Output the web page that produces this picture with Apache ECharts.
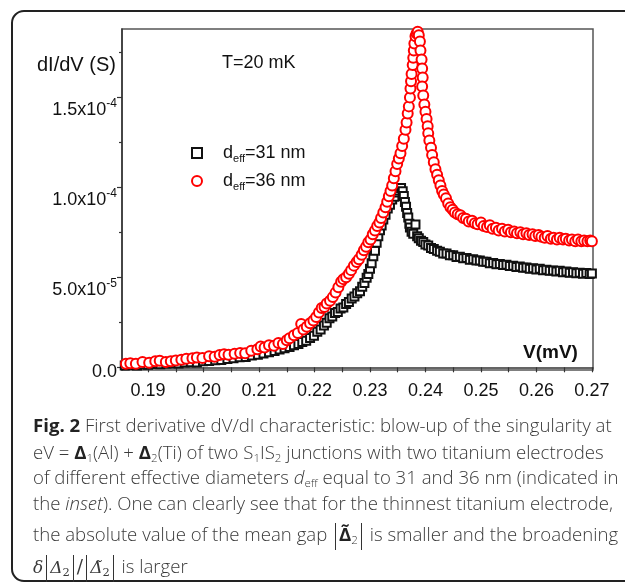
<!DOCTYPE html>
<html>
<head>
<meta charset="utf-8">
<script src="https://cdn.jsdelivr.net/npm/echarts@6/dist/echarts.min.js"></script>
<style>
  html, body { margin: 0; padding: 0; background: #fff; }
  body { width: 625px; height: 588px; position: relative; overflow: hidden; }
  #frame {
    position: absolute; left: 11px; top: 10px; width: 640px; height: 572px;
    border: 2px solid #222; border-radius: 13px; box-sizing: border-box;
  }
  #chart { position: absolute; left: 0; top: 0; width: 625px; height: 588px; }
  .cap {
    position: absolute; left: 33px; white-space: nowrap;
    font-family: "Open Sans", sans-serif; font-size: 18.6px; font-weight: 300; line-height: 20px;
    color: #3a3a3a;
  }
  .cap b { color: #222; font-weight: 700; }
  .cap sub { font-size: 11.5px; vertical-align: -3px; line-height: 0; }
  .bar { display: inline-block; width: 0; height: 27px; border-left: 1.3px solid #333;
         vertical-align: middle; margin: 0 3px; }
  .m { font-family: "DejaVu Serif", "Liberation Serif", serif; font-style: italic; font-size: 17px; }
  .mu { font-family: "DejaVu Serif", "Liberation Serif", serif; }
</style>
</head>
<body>
<div id="frame"></div>
<div id="chart"></div>
<div class="cap" style="top:415px"><b>Fig. 2</b> First derivative dV/dI characteristic: blow-up of the singularity at</div>
<div class="cap" style="top:442px">eV = <b>Δ</b><sub>1</sub>(Al) + <b>Δ</b><sub>2</sub>(Ti) of two S<sub>1</sub>IS<sub>2</sub> junctions with two titanium electrodes</div>
<div class="cap" style="top:467px">of different effective diameters <i>d</i><sub>eff</sub> equal to 31 and 36 nm (indicated in</div>
<div class="cap" style="top:493px">the <i>inset</i>). One can clearly see that for the thinnest titanium electrode,</div>
<div class="cap" style="top:523px">the absolute value of the mean gap <span class="bar"></span><b>Δ̃</b><sub>2</sub><span class="bar"></span> is smaller and the broadening</div>
<div class="cap" style="top:555px"><span class="m">δ</span><span class="bar"></span><span class="m">Δ</span><sub class="mu">2</sub><span class="bar"></span><span class="mu">/</span><span class="bar"></span><span class="m">Δ̃</span><sub class="mu">2</sub><span class="bar"></span> is larger</div>
<script>
// axis ticks and labels
const xTickValues = [0.19, 0.195, 0.20, 0.205, 0.21, 0.215, 0.22, 0.225, 0.23, 0.235, 0.24, 0.245, 0.25, 0.255, 0.26, 0.265, 0.27];
const xLabelValues = [0.19, 0.20, 0.21, 0.22, 0.23, 0.24, 0.25, 0.26, 0.27];
// y in units of 1e-5 S
const yLabelValues = [0, 5, 10, 15];
const yLabelMant = ["0.0", "5.0x10", "1.0x10", "1.5x10"];
const yLabelExp = ["", "-5", "-4", "-4"];
const yMinorTicks = [2.5, 7.5, 12.5, 17.5];

// d_eff = 31 nm (black squares)
const blackV = [
  0.1858, 0.1868, 0.1880, 0.1890, 0.1900, 0.1912, 0.1922, 0.1933, 0.1944, 0.1955,
  0.1966, 0.1977, 0.1988, 0.1999, 0.2010, 0.2021, 0.2032, 0.2043, 0.2054, 0.2065,
  0.2076, 0.2087, 0.2098, 0.2108, 0.2118, 0.2128, 0.2137, 0.2146, 0.2155, 0.2163,
  0.2171, 0.2178, 0.2185, 0.2192, 0.2199, 0.2205, 0.2211, 0.2217, 0.2222, 0.2227,
  0.2232, 0.2237, 0.2242, 0.2247, 0.2252, 0.2257, 0.2262, 0.2267, 0.2272, 0.2277,
  0.2282, 0.2286, 0.2290, 0.2294, 0.2297, 0.2300, 0.2303, 0.2306, 0.2309, 0.2312,
  0.2315, 0.2318, 0.2321, 0.2324, 0.2328, 0.2332, 0.2336, 0.2340, 0.2344, 0.2348,
  0.2352, 0.2356, 0.2359, 0.2361, 0.2363, 0.2365, 0.2367, 0.2369, 0.2371, 0.2372,
  0.2375, 0.2378, 0.2382, 0.2385, 0.2388, 0.2392, 0.2396, 0.2400, 0.2405, 0.2410,
  0.2415, 0.2421, 0.2426, 0.2432, 0.2438, 0.2444, 0.2450, 0.2456, 0.2462, 0.2468,
  0.2474, 0.2480, 0.2486, 0.2492, 0.2498, 0.2504, 0.2510, 0.2516, 0.2522, 0.2528,
  0.2534, 0.2540, 0.2546, 0.2552, 0.2558, 0.2564, 0.2570, 0.2576, 0.2582, 0.2588,
  0.2594, 0.2600, 0.2606, 0.2612, 0.2618, 0.2624, 0.2630, 0.2636, 0.2642, 0.2648,
  0.2654, 0.2660, 0.2666, 0.2672, 0.2678, 0.2684, 0.2690, 0.2696, 0.2700
];
const blackG = [
  0.10, 0.13, 0.10, 0.16, 0.14, 0.19, 0.17, 0.21, 0.23, 0.21,
  0.27, 0.28, 0.26, 0.33, 0.35, 0.39, 0.41, 0.46, 0.50, 0.56,
  0.57, 0.66, 0.70, 0.76, 0.84, 0.91, 0.99, 1.06, 1.13, 1.23,
  1.29, 1.41, 1.48, 1.63, 1.76, 1.97, 2.10, 2.32, 2.48, 2.72,
  2.83, 3.02, 3.08, 3.27, 3.33, 3.52, 3.63, 3.82, 3.93, 4.12,
  4.23, 4.47, 4.68, 4.97, 5.18, 5.47, 5.78, 6.17, 6.48, 6.92,
  7.28, 7.62, 7.88, 8.22, 8.48, 8.82, 9.03, 9.32, 9.48, 9.72,
  9.83, 9.97, 9.78, 9.52, 9.18, 8.92, 8.58, 8.32, 7.98, 7.77,
  7.53, 7.42, 7.93, 7.28, 7.17, 7.03, 6.97, 6.83, 6.77, 6.63,
  6.57, 6.48, 6.42, 6.33, 6.32, 6.23, 6.22, 6.13, 6.14, 6.06,
  6.07, 5.98, 6.00, 5.93, 5.94, 5.86, 5.87, 5.78, 5.80, 5.73,
  5.74, 5.68, 5.70, 5.63, 5.64, 5.58, 5.60, 5.53, 5.54, 5.48,
  5.50, 5.43, 5.47, 5.40, 5.42, 5.36, 5.38, 5.33, 5.36, 5.28,
  5.32, 5.26, 5.28, 5.23, 5.26, 5.20, 5.24, 5.18, 5.21
];

// d_eff = 36 nm (red circles)
const redV = [
  0.1860, 0.1868, 0.1878, 0.1890, 0.1902, 0.1913, 0.1921, 0.1932, 0.1941, 0.1950,
  0.1960, 0.1969, 0.1980, 0.1988, 0.1998, 0.2010, 0.2020, 0.2029, 0.2037, 0.2045,
  0.2056, 0.2066, 0.2075, 0.2086, 0.2097, 0.2103, 0.2110, 0.2118, 0.2127, 0.2135,
  0.2143, 0.2150, 0.2155, 0.2163, 0.2170, 0.2176, 0.2180, 0.2186, 0.2192, 0.2198,
  0.2203, 0.2208, 0.2213, 0.2218, 0.2222, 0.2228, 0.2233, 0.2238, 0.2243, 0.2248,
  0.2252, 0.2257, 0.2262, 0.2266, 0.2271, 0.2276, 0.2280, 0.2285, 0.2289, 0.2293,
  0.2297, 0.2301, 0.2305, 0.2309, 0.2313, 0.2317, 0.2320, 0.2324, 0.2328, 0.2331,
  0.2334, 0.2337, 0.2340, 0.2343, 0.2346, 0.2349, 0.2352, 0.2355, 0.2358, 0.2361,
  0.2364, 0.2366, 0.2368, 0.2370, 0.2372, 0.2373, 0.2374, 0.2375, 0.2377, 0.2378,
  0.2379, 0.2380, 0.2382, 0.2384, 0.2386, 0.2388, 0.2390, 0.2391, 0.2393, 0.2394,
  0.2395, 0.2394, 0.2396, 0.2398, 0.2400, 0.2402, 0.2404, 0.2405, 0.2407, 0.2410,
  0.2412, 0.2415, 0.2418, 0.2421, 0.2424, 0.2427, 0.2430, 0.2433, 0.2437, 0.2441,
  0.2445, 0.2449, 0.2453, 0.2458, 0.2463, 0.2468, 0.2473, 0.2478, 0.2484, 0.2489,
  0.2494, 0.2500, 0.2505, 0.2511, 0.2516, 0.2521, 0.2527, 0.2532, 0.2538, 0.2543,
  0.2549, 0.2554, 0.2560, 0.2565, 0.2571, 0.2576, 0.2582, 0.2587, 0.2593, 0.2598,
  0.2604, 0.2609, 0.2615, 0.2620, 0.2626, 0.2631, 0.2637, 0.2642, 0.2648, 0.2653,
  0.2659, 0.2664, 0.2670, 0.2675, 0.2681, 0.2686, 0.2692, 0.2697, 0.2700
];
const redG = [
  0.20, 0.22, 0.20, 0.30, 0.25, 0.33, 0.36, 0.30, 0.33, 0.38,
  0.42, 0.47, 0.50, 0.55, 0.52, 0.62, 0.58, 0.68, 0.72, 0.70,
  0.75, 0.80, 0.78, 0.92, 1.00, 1.15, 1.10, 1.22, 1.20, 1.35,
  1.30, 1.50, 1.62, 1.78, 1.90, 2.40, 2.10, 2.25, 2.45, 2.60,
  2.80, 3.05, 3.30, 3.35, 3.55, 3.70, 3.90, 4.15, 4.45, 4.75,
  4.90, 5.00, 5.20, 5.40, 5.65, 5.85, 6.00, 6.25, 6.50, 6.70,
  6.95, 7.10, 7.40, 7.60, 7.85, 8.05, 8.30, 8.60, 8.90, 9.20,
  9.50, 9.80, 10.10, 10.50, 10.90, 11.30, 11.60, 11.90, 12.30, 12.70,
  13.20, 13.60, 14.10, 14.50, 15.00, 15.50, 15.90, 16.30, 16.80, 17.20,
  17.60, 18.00, 18.40, 18.55, 18.65, 18.45, 18.10, 17.60, 17.10, 16.60,
  16.10, 15.60, 15.10, 14.60, 14.20, 13.80, 13.40, 13.00, 12.60, 12.20,
  11.80, 11.40, 11.00, 10.70, 10.40, 10.10, 9.80, 9.60, 9.40, 9.10,
  8.90, 8.75, 8.60, 8.50, 8.45, 8.30, 8.25, 8.10, 8.15, 8.00,
  7.95, 8.05, 7.85, 7.80, 7.90, 7.70, 7.75, 7.60, 7.70, 7.55,
  7.65, 7.50, 7.55, 7.45, 7.50, 7.40, 7.45, 7.35, 7.40, 7.30,
  7.35, 7.25, 7.20, 7.30, 7.15, 7.20, 7.10, 7.20, 7.10, 7.15,
  7.05, 7.10, 7.00, 7.10, 7.00, 7.05, 7.00, 7.05, 7.00
];

const FONT = "Arial, 'Liberation Sans', sans-serif";
const pair = (xs, ys) => xs.map((x, i) => [x, ys[i]]);

const chart = echarts.init(document.getElementById("chart"));

const option = {
  animation: false,
  textStyle: { fontFamily: FONT },
  grid: {
    left: 122, top: 29, right: 32, bottom: 218,
    show: true, borderColor: "#555", borderWidth: 1.5,
  },
  xAxis: {
    type: "value",
    min: 0.1853,
    max: 0.2702,
    axisLine: { lineStyle: { color: "#333", width: 1.5 } },
    axisTick: { customValues: xTickValues, length: 5, lineStyle: { color: "#333", width: 1.2 } },
    axisLabel: {
      customValues: xLabelValues,
      formatter: (v) => v.toFixed(2),
      fontSize: 18, color: "#111", margin: 12, fontFamily: FONT,
    },
    splitLine: { show: false },
  },
  yAxis: [
    {
      type: "value",
      min: -0.15,
      max: 18.8,
      axisLine: { show: true, lineStyle: { color: "#333", width: 1.5 } },
      axisTick: { show: true, customValues: yLabelValues, length: 5, lineStyle: { color: "#333", width: 1.2 } },
      axisLabel: {
        customValues: yLabelValues,
        margin: 5,
        verticalAlign: "top",
        formatter: (v) => {
          const i = yLabelValues.indexOf(Math.round(v * 100) / 100);
          if (i < 0) return "";
          if (!yLabelExp[i]) return "{z|" + yLabelMant[i] + "}";
          return "{b|" + yLabelMant[i] + "}{s|" + yLabelExp[i] + "}";
        },
        rich: {
          z: { fontSize: 18, color: "#111", fontFamily: FONT, lineHeight: 10 },
          b: { fontSize: 18, color: "#111", fontFamily: FONT, lineHeight: 22, verticalAlign: "bottom" },
          s: { fontSize: 12, color: "#111", fontFamily: FONT, lineHeight: 12, verticalAlign: "top" },
        },
      },
      splitLine: { show: false },
    },
    {
      type: "value",
      min: -0.15,
      max: 18.8,
      position: "left",
      axisLine: { show: false },
      axisTick: { show: true, customValues: yMinorTicks, length: 3, lineStyle: { color: "#333", width: 1.2 } },
      axisLabel: { show: false },
      splitLine: { show: false },
    },
  ],
  legend: {
    orient: "vertical",
    left: 186,
    top: 139,
    itemWidth: 10,
    itemHeight: 10,
    itemGap: 8,
    data: ["d31", "d36"],
    formatter: (name) =>
      "{d|d}{s|eff}{d|=" + (name === "d31" ? "31" : "36") + " nm}",
    textStyle: {
      padding: [0, 0, 0, 16],
      rich: {
        d: { fontSize: 18, color: "#111", fontFamily: FONT, lineHeight: 22 },
        s: { fontSize: 11, color: "#111", fontFamily: FONT, lineHeight: 11, verticalAlign: "bottom" },
      },
    },
  },
  graphic: [
    { type: "text", left: 37, top: 55, style: { text: "dI/dV (S)", font: "20px " + FONT, fill: "#111" } },
    { type: "text", left: 222, top: 54, style: { text: "T=20 mK", font: "18px " + FONT, fill: "#111" } },
    { type: "text", left: 523, top: 343, style: { text: "V(mV)", font: "bold 19px " + FONT, fill: "#111" } },
  ],
  series: [
    {
      name: "d31",
      type: "scatter",
      symbol: "rect",
      symbolSize: 8,
      itemStyle: { color: "#fff", borderColor: "#111", borderWidth: 2, opacity: 1 },
      data: pair(blackV, blackG),
    },
    {
      name: "d36",
      type: "scatter",
      symbol: "circle",
      symbolSize: 10,
      itemStyle: { color: "#fff", borderColor: "#f00", borderWidth: 2, opacity: 1 },
      data: pair(redV, redG),
    },
  ],
};

chart.setOption(option);
</script>
</body>
</html>
